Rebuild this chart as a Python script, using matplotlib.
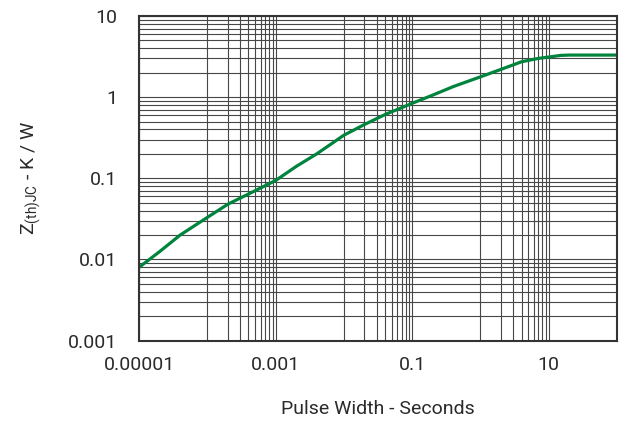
import numpy as np
import matplotlib
matplotlib.use('Agg')
import matplotlib.pyplot as plt
from matplotlib.ticker import NullFormatter

plt.rcParams['font.family'] = ['Roboto', 'DejaVu Sans']

# pulse width [s] and Zth(JC) [K/W]
pulse = [1e-5, 2e-5, 4e-5, 1e-4, 2e-4, 4e-4, 1e-3, 2e-3, 4e-3, 1e-2, 2e-2, 4e-2,
         1e-1, 2e-1, 4e-1, 1, 2, 4, 7, 10, 15, 20, 40, 100]
zth = [0.008, 0.0125, 0.02, 0.033, 0.048, 0.064, 0.094, 0.14, 0.2, 0.34, 0.46, 0.61,
       0.84, 1.06, 1.35, 1.78, 2.2, 2.73, 3.0, 3.12, 3.27, 3.3, 3.3, 3.3]

xticks = [1e-5, 1e-3, 1e-1, 10]
xticklabels = ['0.00001', '0.001', '0.1', '10']
yticks = [0.001, 0.01, 0.1, 1, 10]
yticklabels = ['0.001', '0.01', '0.1', '1', '10']
# decades that carry 2..9 minor grid lines on x
x_minor_decades = [1e-4, 1e-2, 1]
x_extra_lines = [1e-4, 1e-2, 1, 100]

fig = plt.figure(figsize=(6.21, 4.21), dpi=100)
ax = fig.add_axes([0.224, 0.191, 0.7696, 0.771])
ax.set_xscale('log')
ax.set_yscale('log')
ax.set_xlim(1e-5, 100)
ax.set_ylim(0.001, 10)

gc = '#474747'
glw = 0.8
xminor = [k * d for d in x_minor_decades for k in range(2, 10)] + x_extra_lines
ax.set_xticks(xticks)
ax.set_xticklabels(xticklabels)
ax.set_xticks(xminor, minor=True)
ax.xaxis.set_minor_formatter(NullFormatter())
ax.set_yticks(yticks)
ax.set_yticklabels(yticklabels)
ax.set_yticks([k * d for d in yticks[:-1] for k in range(2, 10)], minor=True)
ax.yaxis.set_minor_formatter(NullFormatter())
ax.tick_params(which='both', length=0)
ax.tick_params(axis='x', pad=11, labelsize=14, labelcolor='#2a2a2a')
ax.tick_params(axis='y', pad=16, labelsize=14, labelcolor='#2a2a2a')
ax.grid(True, which='both', color=gc, linewidth=glw)
ax.set_axisbelow(True)
for s in ax.spines.values():
    s.set_color('#333333')
    s.set_linewidth(1.5)

ax.plot(pulse, zth, color='#00843d', linewidth=2.3, solid_capstyle='butt')

ax.set_xlabel('Pulse Width - Seconds', fontsize=14, color='#2a2a2a', labelpad=19)
ax.set_ylabel(r'Z$_{\mathregular{(th)JC}}$ - K / W', fontsize=14,
              color='#2a2a2a', labelpad=18)

fig.savefig('out.png', dpi=100)
